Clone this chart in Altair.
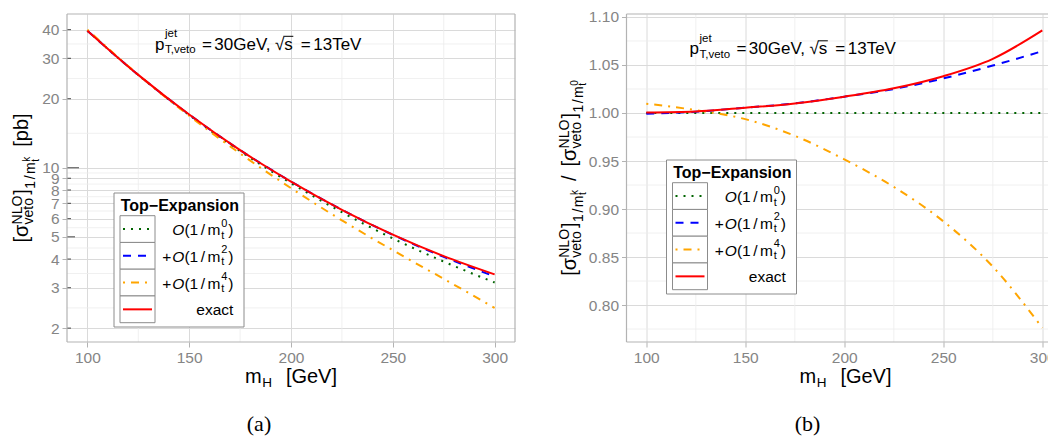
import altair as alt
import pandas as pd

# ---------------- data ----------------
mH = [100, 125, 150, 175, 200, 225, 250, 275, 300]

# panel (a): sigma_veto^NLO in pb
xs_O0 = [39.58, 25.36, 16.97, 11.82, 8.56, 6.40, 4.92, 3.90, 3.16]
xs_O2 = [39.55, 25.39, 17.06, 11.94, 8.71, 6.56, 5.10, 4.09, 3.36]
xs_O4 = [39.96, 25.44, 16.86, 11.54, 8.15, 5.90, 4.37, 3.28, 2.45]
xs_exact = [39.60, 25.40, 17.06, 11.94, 8.71, 6.56, 5.11, 4.12, 3.43]

# panel (b): ratio to the O(1/mt^0) result
r_O0 = [1.0, 1.0, 1.0, 1.0, 1.0, 1.0, 1.0, 1.0, 1.0]
r_O2 = [0.9992, 1.0013, 1.0055, 1.0100, 1.0170, 1.0250, 1.0360, 1.0494, 1.0644]
r_O4 = [1.0097, 1.0030, 0.9936, 0.9762, 0.9517, 0.9230, 0.8872, 0.8400, 0.7763]
r_exact = [1.0006, 1.0016, 1.0055, 1.0100, 1.0170, 1.0257, 1.0383, 1.0564, 1.0860]

x_ticks = [100, 150, 200, 250, 300]
x_minor = [125, 175, 225, 275]
ya_ticks = [2, 3, 4, 5, 6, 7, 8, 9, 10, 20, 30, 40]
ya_minor = [2.45, 3.46, 4.47, 5.48, 6.48, 7.48, 8.49, 9.49, 14.14, 24.49, 34.64]
yb_ticks = [0.80, 0.85, 0.90, 0.95, 1.00, 1.05, 1.10]
yb_minor = [0.775, 0.825, 0.875, 0.925, 0.975, 1.025, 1.075]
logtick_short = [2, 3, 4, 6, 7, 8, 9, 20, 30, 40]
logtick_mid = [5]
logtick_long = [10]

series = ["O0", "O2", "O4", "exact"]
sdigit = {"O0": "0", "O2": "2", "O4": "4"}
colors = {"O0": "#006400", "O2": "#0000ff", "O4": "#ffa500", "exact": "#ff0000"}
dashes = {"O0": [2, 6], "O2": [8, 7], "O4": [2, 6, 8, 6], "exact": None}

FONT = "Liberation Sans"
SERIF = "Liberation Serif"
GRID = "#dadada"
MINOR = "#ececec"
BORDER = "#b3b3b3"
LABEL = "#858585"

CW = {' ': 278, '(': 333, ')': 333, '+': 584, ',': 278, '-': 333, '.': 278, '/': 278,
      '=': 584, '[': 278, ']': 278, '√': 549, 'σ': 602, '−': 584,
      'A': 667, 'B': 667, 'C': 722, 'D': 722, 'E': 667, 'F': 611, 'G': 778, 'H': 722,
      'I': 278, 'J': 500, 'K': 667, 'L': 556, 'M': 833, 'N': 722, 'O': 778, 'P': 667,
      'Q': 778, 'R': 722, 'S': 667, 'T': 611, 'U': 722, 'V': 667, 'W': 944, 'X': 667,
      'Y': 667, 'Z': 611, 'a': 556, 'b': 556, 'c': 500, 'd': 556, 'e': 556, 'f': 278,
      'g': 556, 'h': 556, 'i': 222, 'j': 222, 'k': 500, 'l': 222, 'm': 833, 'n': 556,
      'o': 556, 'p': 556, 'q': 556, 'r': 333, 's': 500, 't': 278, 'u': 556, 'v': 500,
      'w': 722, 'x': 500, 'y': 500, 'z': 500}


def tw(s, size):
    return sum(CW.get(c, 556) for c in s) * size / 1000.0


one = pd.DataFrame({"k": [0]})


def txt(s, x, y, size, angle=0, style="normal", weight="normal", align="left",
        color="#000000", font=FONT, baseline="alphabetic"):
    mk = dict(font=font, fontSize=size, fontStyle=style, fontWeight=weight,
              align=align, baseline=baseline, color=color)
    if angle:
        mk["angle"] = angle
    return alt.Chart(one).mark_text(**mk).encode(
        x=alt.value(x), y=alt.value(y), text=alt.value(s))


def rich(pieces, x0, y0, rotated=False, anchor="left"):
    items = []
    adv = 0.0
    for p in pieces:
        adv += p.get("gap", 0)
        if p["k"] == "t":
            items.append((p["t"], adv, p.get("r", 0), p["s"], p.get("style", "normal")))
            adv += tw(p["t"], p["s"])
        else:
            items.append((p["sup"], adv, p["rs"], p["s"], "normal"))
            items.append((p["sub"], adv, p["rb"], p["s"], "normal"))
            adv += max(tw(p["sup"], p["s"]), tw(p["sub"], p["s"]))
    shift = -adv if anchor == "right" else (-adv / 2 if anchor == "center" else 0)
    layers, pos = [], []
    for t, a, r, s, st in items:
        a += shift
        pos.append((t, a, s))
        if rotated:
            layers.append(txt(t, x0 - r, y0 - a, s, angle=270, style=st))
        else:
            layers.append(txt(t, x0 + a, y0 - r, s, style=st))
    return layers, pos


def hrule(x1, x2, y, color, width, dash=None):
    mk = dict(color=color, strokeWidth=width)
    if dash:
        mk["strokeDash"] = dash
    return alt.Chart(one).mark_rule(**mk).encode(x=alt.value(x1), x2=alt.value(x2), y=alt.value(y))


def vrule(x, y1, y2, color, width):
    return alt.Chart(one).mark_rule(color=color, strokeWidth=width).encode(
        x=alt.value(x), y=alt.value(y1), y2=alt.value(y2))


def anchor(x, y):
    return alt.Chart(one).mark_rule(color="#ffffff", strokeWidth=0, opacity=0).encode(
        x=alt.value(x), y=alt.value(y), y2=alt.value(y + 1))


def box(x1, x2, y1, y2, stroke="#8c8c8c"):
    return alt.Chart(one).mark_rect(fill="#ffffff", stroke=stroke, strokeWidth=1).encode(
        x=alt.value(x1), x2=alt.value(x2), y=alt.value(y1), y2=alt.value(y2))


def order_label(d, plus):
    p = []
    if plus:
        p.append(dict(k="t", t="+", s=15.5))
    p.append(dict(k="t", t="O", s=15.5, style="italic", gap=1 if plus else 0))
    p.append(dict(k="t", t="(1", s=15.5))
    p.append(dict(k="t", t="/", s=15.5, gap=2.5))
    p.append(dict(k="t", t="m", s=15.5, gap=2.5))
    p.append(dict(k="st", sup=d, sub="t", s=11, rs=8.5, rb=-3.5, gap=0.8))
    p.append(dict(k="t", t=")", s=15.5, gap=0.8))
    return p


def legend(bx, by):
    L = [box(bx, bx + 130, by, by + 134)]
    L.append(txt("Top−Expansion", bx + 6.7, by + 17.7, 16, weight="bold"))
    for i, name in enumerate(series):
        top = by + 22.7 + i * 26.75
        L.append(box(bx + 6, bx + 41, top, top + 26.75))
        yc = top + 13.4
        L.append(hrule(bx + 9, bx + 38, yc, colors[name], 2, dashes[name]))
        if name == "exact":
            pcs = [dict(k="t", t="exact", s=15.5)]
        else:
            pcs = order_label(sdigit[name], name != "O0")
        lay, _ = rich(pcs, bx + 119.3, yc + 6, anchor="right")
        L += lay
    return L


def annotation(x0, y0):
    pcs = [
        dict(k="t", t="p", s=17),
        dict(k="st", sup="jet", sub="T,veto", s=11.5, rs=12.3, rb=-3.7, gap=0.5),
        dict(k="t", t="=", s=17, gap=5),
        dict(k="t", t="30GeV,", s=17, gap=2.5),
        dict(k="t", t="√", s=17, gap=3),
        dict(k="t", t="s", s=17),
        dict(k="t", t="=", s=17, gap=8),
        dict(k="t", t="13TeV", s=17, gap=2.5),
    ]
    lay, pos = rich(pcs, x0, y0)
    sq = [p for p in pos if p[0] == "√"][0]
    ss = [p for p in pos if p[0] == "s"][0]
    lay.append(hrule(x0 + sq[1] + tw("√", 17) - 1, x0 + ss[1] + tw("s", 17) + 0.5,
                     y0 - 13.2, "#000000", 1))
    return lay


def sigma_block(e):
    return [
        dict(k="t", t="[", s=20),
        dict(k="t", t="σ", s=20),
        dict(k="st", sup="NLO", sub="veto", s=14, rs=6.5, rb=-5, gap=0.5),
        dict(k="t", t="]", s=20, gap=1),
        dict(k="t", t="1", s=14, r=-7, gap=0.5),
        dict(k="t", t="/", s=14, r=-7, gap=1.5),
        dict(k="t", t="m", s=14, r=-7, gap=1.5),
        dict(k="st", sup=e, sub="t", s=10, rs=-2, rb=-10.5, gap=0.5),
    ]


def xtitle(cx, y0):
    pcs = [dict(k="t", t="m", s=20),
           dict(k="t", t="H", s=13.5, r=-4, gap=0.5),
           dict(k="t", t="[GeV]", s=20, gap=14)]
    lay, _ = rich(pcs, cx, y0, anchor="center")
    return lay


def axis(values, fmt=None):
    kw = dict(values=values, title=None, grid=True, gridColor=GRID, gridWidth=1,
              domain=False, tickColor=BORDER, tickSize=5, tickWidth=1,
              labelFont=FONT, labelFontSize=15.5, labelColor=LABEL, labelPadding=3,
              labelOverlap=False, labelFlush=False)
    if fmt:
        kw["format"] = fmt
    return alt.Axis(**kw)


H = 328

# ---------------- panel (a) ----------------
WA = 448
xsA = alt.Scale(domain=[90, 310], nice=False, zero=False)
ysA = alt.Scale(type="log", domain=[1.74, 46.8], nice=False)
xaxA = axis(x_ticks)
yaxA = axis(ya_ticks, "d")
dfA = pd.DataFrame({"mH": mH, "O0": xs_O0, "O2": xs_O2, "O4": xs_O4, "exact": xs_exact})

layA = [anchor(-59, -6), anchor(0, 422)]
layA.append(alt.Chart(pd.DataFrame({"mH": x_minor})).mark_rule(color=MINOR, strokeWidth=0.8).encode(
    x=alt.X("mH:Q", scale=xsA, axis=xaxA), y=alt.value(0), y2=alt.value(H)))
layA.append(alt.Chart(pd.DataFrame({"val": ya_minor})).mark_rule(color=MINOR, strokeWidth=0.8).encode(
    y=alt.Y("val:Q", scale=ysA, axis=yaxA), x=alt.value(0), x2=alt.value(WA)))
for vals, L in [(logtick_short, 4), (logtick_mid, 8), (logtick_long, 12)]:
    layA.append(alt.Chart(pd.DataFrame({"val": vals})).mark_rule(color="#333333", strokeWidth=0.9).encode(
        y=alt.Y("val:Q", scale=ysA, axis=yaxA), x=alt.value(0), x2=alt.value(L)))
for name in series:
    mk = dict(color=colors[name], strokeWidth=2, interpolate="monotone")
    if dashes[name]:
        mk["strokeDash"] = dashes[name]
    layA.append(alt.Chart(dfA).mark_line(**mk).encode(
        x=alt.X("mH:Q", scale=xsA, axis=xaxA), y=alt.Y(f"{name}:Q", scale=ysA, axis=yaxA)))
layA += [hrule(0, WA, 0, BORDER, 1.2), hrule(0, WA, H, BORDER, 1.2),
         vrule(0, 0, H, BORDER, 1.2), vrule(WA, 0, H, BORDER, 1.2)]
layA += annotation(88, 35.5)
layA += legend(47, 179)
ta, _ = rich(sigma_block("k") + [dict(k="t", t="[pb]", s=20, gap=10)], -39, H / 2,
             rotated=True, anchor="center")
layA += ta
layA += xtitle(224, 369)
layA.append(txt("(a)", 192, 417, 22, font=SERIF, align="center"))

panelA = alt.layer(*layA).properties(width=WA, height=H)

# ---------------- panel (b) ----------------
WB = 428
xsB = alt.Scale(domain=[90, 306.16], nice=False, zero=False)
ysB = alt.Scale(domain=[0.7615, 1.1031], nice=False, zero=False)
xaxB = axis(x_ticks)
yaxB = axis(yb_ticks, ".2f")
dfB = pd.DataFrame({"mH": mH, "O0": r_O0, "O2": r_O2, "O4": r_O4, "exact": r_exact})

layB = [anchor(-70, 0)]
layB.append(alt.Chart(pd.DataFrame({"mH": x_minor})).mark_rule(color=MINOR, strokeWidth=0.8).encode(
    x=alt.X("mH:Q", scale=xsB, axis=xaxB), y=alt.value(0), y2=alt.value(H)))
layB.append(alt.Chart(pd.DataFrame({"val": yb_minor})).mark_rule(color=MINOR, strokeWidth=0.8).encode(
    y=alt.Y("val:Q", scale=ysB, axis=yaxB), x=alt.value(0), x2=alt.value(WB)))
for name in series:
    mk = dict(color=colors[name], strokeWidth=2, interpolate="monotone")
    if dashes[name]:
        mk["strokeDash"] = dashes[name]
    layB.append(alt.Chart(dfB).mark_line(**mk).encode(
        x=alt.X("mH:Q", scale=xsB, axis=xaxB), y=alt.Y(f"{name}:Q", scale=ysB, axis=yaxB)))
layB += [hrule(0, WB, 0, BORDER, 1.2), hrule(0, WB, H, BORDER, 1.2), vrule(0, 0, H, BORDER, 1.2)]
layB += annotation(63, 40)
layB += legend(40, 146)
tb, _ = rich(sigma_block("k") + [dict(k="t", t="/", s=20, gap=9)] +
             [dict(sigma_block("0")[0], gap=9)] + sigma_block("0")[1:],
             -51, H / 2, rotated=True, anchor="center")
layB += tb
layB += xtitle(219, 369)
layB.append(txt("(b)", 181, 417, 22, font=SERIF, align="center"))

panelB = alt.layer(*layB).properties(width=WB, height=H)

chart = alt.hconcat(panelA, panelB, spacing=40.5).properties(
    padding={"left": 0, "top": 0, "right": -8, "bottom": 0}
).configure_view(stroke=None)

chart.save("out.html", embed_options={"renderer": "svg", "actions": False})
